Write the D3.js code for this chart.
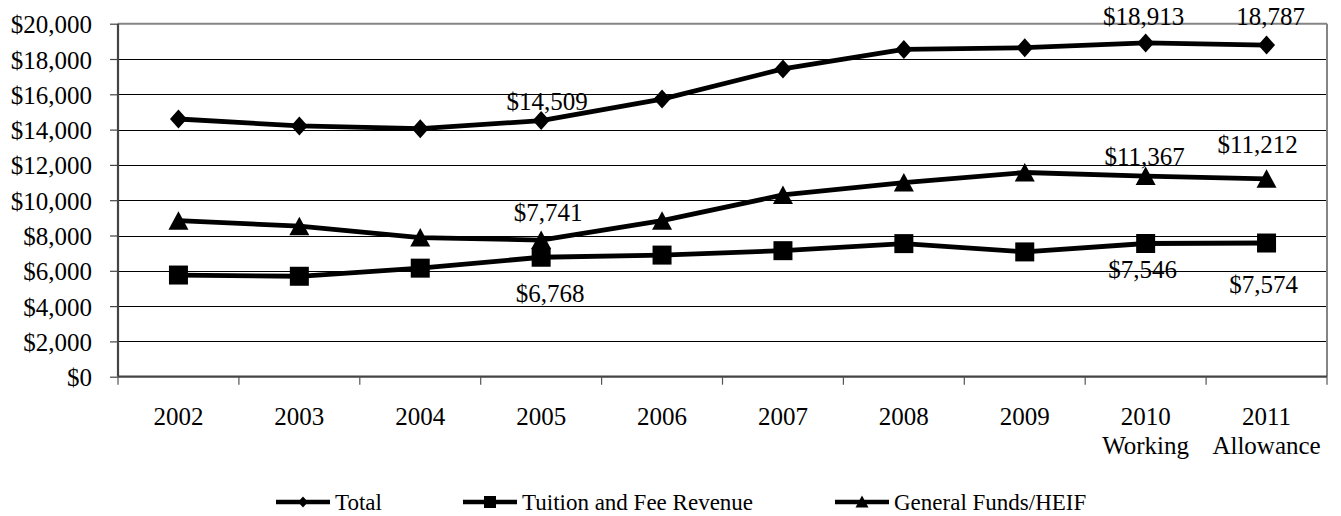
<!DOCTYPE html>
<html>
<head>
<meta charset="utf-8">
<script src="https://cdn.jsdelivr.net/npm/d3@7"></script>
<style>
  html, body { margin: 0; padding: 0; background: #fff; }
  svg { display: block; }
</style>
</head>
<body>
<svg id="chart" width="1341" height="516"></svg>
<script>
// Fiscal years on the category axis, with a second caption line for the last two
const categories = ["2002", "2003", "2004", "2005", "2006", "2007", "2008", "2009", "2010", "2011"];
const subCaptions = ["", "", "", "", "", "", "", "", "Working", "Allowance"];

// Revenue per student, in dollars
const totalValues   = [14600, 14210, 14050, 14509, 15730, 17440, 18540, 18640, 18913, 18787];
const tuitionValues = [5760, 5690, 6150, 6768, 6890, 7140, 7540, 7070, 7546, 7574];
const generalValues = [8840, 8530, 7880, 7741, 8840, 10300, 11000, 11570, 11367, 11212];

// Value axis ticks
const yTicks = [0, 2000, 4000, 6000, 8000, 10000, 12000, 14000, 16000, 18000, 20000];

const seriesNames = ["Total", "Tuition and Fee Revenue", "General Funds/HEIF"];

// Which points carry a value label (prefix, and nudges relative to the marker)
const valueLabels = [
  { series: 0, year: "2005", prefix: "$", dx: 6,  dy: -11 },
  { series: 0, year: "2010", prefix: "$", dx: -2, dy: -18 },
  { series: 0, year: "2011", prefix: "",  dx: 4,  dy: -20 },
  { series: 2, year: "2005", prefix: "$", dx: 7,  dy: -19 },
  { series: 2, year: "2010", prefix: "$", dx: -1, dy: -11 },
  { series: 2, year: "2011", prefix: "$", dx: -9, dy: -26 },
  { series: 1, year: "2005", prefix: "$", dx: 9,  dy: 45 },
  { series: 1, year: "2010", prefix: "$", dx: -3, dy: 34 },
  { series: 1, year: "2011", prefix: "$", dx: -3, dy: 50 }
];

const seriesValues = [totalValues, tuitionValues, generalValues];
const FONT = "'Liberation Serif', 'Times New Roman', Times, serif";

const svg = d3.select("#chart");
const W = 1341;
const margin = { left: 118, right: 14, top: 23.7, bottom: 139.3 };
const plotW = W - margin.left - margin.right;
const plotBottom = 516 - margin.bottom;

const x = d3.scaleBand().domain(categories).range([margin.left, margin.left + plotW]);
const y = d3.scaleLinear().domain([0, 20000]).range([plotBottom, margin.top]);
const cx = c => x(c) + x.bandwidth() / 2;

// Horizontal gridlines
const grid = svg.append("g")
  .attr("transform", `translate(${margin.left},0)`)
  .call(d3.axisLeft(y).tickValues(yTicks.filter(v => v > 0 && v < 20000)).tickSize(-plotW).tickFormat(""));
grid.select(".domain").remove();
grid.selectAll("line").attr("stroke", "#000").attr("stroke-width", 1).attr("shape-rendering", "crispEdges");

// Plot frame: top and right in grey
svg.append("line")
  .attr("x1", margin.left).attr("x2", margin.left + plotW)
  .attr("y1", y(20000)).attr("y2", y(20000))
  .attr("stroke", "#858585").attr("stroke-width", 2);
svg.append("line")
  .attr("x1", margin.left + plotW).attr("x2", margin.left + plotW)
  .attr("y1", y(20000)).attr("y2", y(0))
  .attr("stroke", "#858585").attr("stroke-width", 2);

// Value axis
const yAxis = svg.append("g")
  .attr("transform", `translate(${margin.left},0)`)
  .call(d3.axisLeft(y).tickValues(yTicks).tickSize(8).tickPadding(18)
    .tickFormat(v => "$" + d3.format(",")(v)));
yAxis.attr("font-family", FONT).attr("font-size", 25);
yAxis.select(".domain").attr("stroke", "#444").attr("stroke-width", 2.2)
  .attr("d", `M0,${y(20000)}V${y(0)}`);
yAxis.selectAll(".tick line").attr("stroke", "#444").attr("stroke-width", 1.2);
yAxis.selectAll(".tick text").attr("dy", "0.36em").attr("fill", "#000");

// Category axis line and boundary ticks
const boundaries = categories.map(c => x(c)).concat([x.range()[1]]);
svg.append("line")
  .attr("x1", margin.left).attr("x2", margin.left + plotW)
  .attr("y1", y(0)).attr("y2", y(0))
  .attr("stroke", "#444").attr("stroke-width", 2.2);
svg.append("g").selectAll("line").data(boundaries).join("line")
  .attr("x1", d => d).attr("x2", d => d)
  .attr("y1", y(0)).attr("y2", y(0) + 8)
  .attr("stroke", "#555").attr("stroke-width", 1.2);

// Category labels
const xl = svg.append("g").selectAll("text").data(categories).join("text")
  .attr("x", d => cx(d)).attr("y", y(0) + 48)
  .attr("text-anchor", "middle").attr("font-size", 25);
xl.append("tspan").text(d => d);
xl.append("tspan")
  .attr("x", d => cx(d)).attr("dy", 29)
  .text((d, i) => subCaptions[i]);

// Marker shapes
const markerPaths = [
  "M0,-9.5L8.5,0L0,9.5L-8.5,0Z",          // diamond
  "M-9.5,-9.5H9.5V9.5H-9.5Z",             // square
  "M0,-9.5L10,9L-10,9Z"                   // triangle
];
const legendMarkerPaths = [
  "M0,-5.5L5,0L0,5.5L-5,0Z",
  "M-6,-6H6V6H-6Z",
  "M0,-6.5L6.5,5.5L-6.5,5.5Z"
];

const line = d3.line().x(d => cx(d.c)).y(d => y(d.v));

seriesValues.forEach((vals, si) => {
  const pts = categories.map((c, i) => ({ c, v: vals[i] }));
  svg.append("path").datum(pts)
    .attr("d", line)
    .attr("fill", "none").attr("stroke", "#000")
    .attr("stroke-width", 4.8).attr("stroke-linejoin", "round");
  svg.append("g").selectAll("path").data(pts).join("path")
    .attr("d", markerPaths[si])
    .attr("transform", d => `translate(${cx(d.c)},${y(d.v)})`)
    .attr("fill", "#000");
});

// Value labels
svg.append("g").selectAll("text").data(valueLabels).join("text")
  .attr("x", d => cx(d.year) + d.dx)
  .attr("y", d => y(seriesValues[d.series][categories.indexOf(d.year)]) + d.dy)
  .attr("text-anchor", "middle").attr("font-size", 25)
  .text(d => d.prefix + d3.format(",")(seriesValues[d.series][categories.indexOf(d.year)]));

// Legend
const legendX = [276, 463, 835];
const legendY = 502;
const lg = svg.append("g").selectAll("g").data(seriesNames).join("g")
  .attr("transform", (d, i) => `translate(${legendX[i]},${legendY})`);
lg.append("line").attr("x1", 0).attr("x2", 54).attr("y1", 0).attr("y2", 0)
  .attr("stroke", "#000").attr("stroke-width", 4.5);
lg.append("path").attr("d", (d, i) => legendMarkerPaths[i])
  .attr("transform", "translate(27,0)").attr("fill", "#000");
lg.append("text").attr("x", 59).attr("y", 7.5).attr("font-size", 23).text(d => d);

// Serif face on every label
svg.selectAll("text").attr("font-family", FONT).style("font-family", FONT).attr("fill", "#000");
</script>
</body>
</html>
